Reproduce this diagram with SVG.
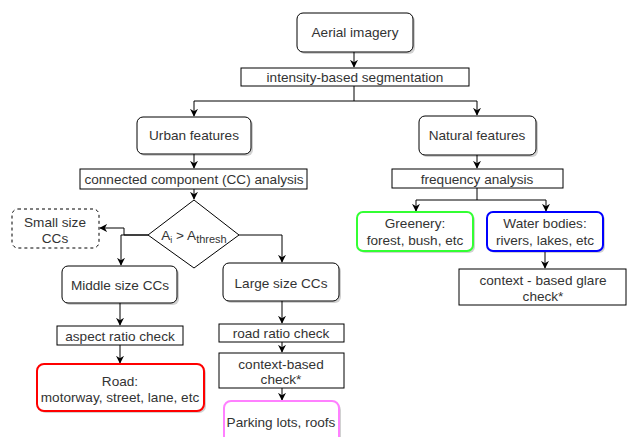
<svg xmlns="http://www.w3.org/2000/svg" width="627" height="437" viewBox="0 0 627 437">
<defs>
<style>
text{font-family:"Liberation Sans",Arial,sans-serif;font-size:13.6px;fill:#333;text-anchor:middle}
.box{fill:#fff;stroke:#000;stroke-width:1}
.rnd{fill:#fff;stroke:#000;stroke-width:1}
.sh{fill:#000;opacity:0.18}
.c{fill:none;stroke:#000;stroke-width:1}
</style>
<marker id="ah" viewBox="0 0 10 10" refX="9" refY="5" markerWidth="8" markerHeight="8" orient="auto" markerUnits="userSpaceOnUse"><path d="M0,0 L10,5 L0,10 L3,5 Z" fill="#000"/></marker>
</defs>
<rect width="627" height="437" fill="#fff"/>
<g id="connectors">
<path class="c" d="M354,52 V67" marker-end="url(#ah)"/>
<path class="c" d="M354,86 V101 H194 V116" marker-end="url(#ah)"/>
<path class="c" d="M354,101 H477 V115" marker-end="url(#ah)"/>
<path class="c" d="M194,154 V168" marker-end="url(#ah)"/>
<path class="c" d="M194,189 V199" marker-end="url(#ah)"/>
<path class="c" d="M148,235 H124 V228 H100" marker-end="url(#ah)"/>
<path class="c" d="M148,235 H121 V265" marker-end="url(#ah)"/>
<path class="c" d="M239,235 H282 V262" marker-end="url(#ah)"/>
<path class="c" d="M120,303 V325" marker-end="url(#ah)"/>
<path class="c" d="M120,345 V363" marker-end="url(#ah)"/>
<path class="c" d="M282,301 V323" marker-end="url(#ah)"/>
<path class="c" d="M282,342 V352" marker-end="url(#ah)"/>
<path class="c" d="M282,388 V400" marker-end="url(#ah)"/>
<path class="c" d="M477,155 V168" marker-end="url(#ah)"/>
<path class="c" d="M477,188 V200 H416 V211" marker-end="url(#ah)"/>
<path class="c" d="M477,200 H546 V211" marker-end="url(#ah)"/>
<path class="c" d="M545,251 V268" marker-end="url(#ah)"/>
</g>
<g id="aerial">
<rect class="sh" x="299" y="15" width="116" height="39" rx="6"/>
<rect class="rnd" x="297" y="13" width="116" height="39" rx="6" stroke-width="2"/>
<text x="355" y="37" font-size="13.2">Aerial imagery</text>
</g>
<g id="segmentation">
<rect class="box" x="241" y="68" width="228" height="18"/>
<text x="355" y="82">intensity-based segmentation</text>
</g>
<g id="urban">
<rect class="sh" x="139" y="119" width="114" height="37" rx="6"/>
<rect class="rnd" x="137" y="117" width="114" height="37" rx="6"/>
<text x="194" y="140">Urban features</text>
</g>
<g id="cc">
<rect class="box" x="80" y="169" width="227" height="20"/>
<text x="194" y="184">connected component (CC) analysis</text>
</g>
<g id="decision">
<path class="box" d="M194,200 L239,235 L194,268 L148,235 Z"/>
<text x="194" y="240">A<tspan font-size="9" dy="3">i</tspan><tspan dy="-3"> &gt; A</tspan><tspan font-size="11" dy="3">thresh</tspan></text>
</g>
<g id="small">
<rect x="12" y="209" width="87" height="39" rx="6" fill="#fff" stroke="#000" stroke-dasharray="3,3"/>
<text x="55" y="227">Small size</text>
<text x="55" y="243">CCs</text>
</g>
<g id="middle">
<rect class="sh" x="64" y="268" width="115" height="37" rx="6"/>
<rect class="rnd" x="62" y="266" width="115" height="37" rx="6"/>
<text x="120" y="290">Middle size CCs</text>
</g>
<g id="large">
<rect class="sh" x="225" y="265" width="116" height="38" rx="6"/>
<rect class="rnd" x="223" y="263" width="116" height="38" rx="6"/>
<text x="281" y="288">Large size CCs</text>
</g>
<g id="aspect">
<rect class="box" x="57" y="326" width="126" height="19"/>
<text x="120" y="341">aspect ratio check</text>
</g>
<g id="road">
<rect class="sh" x="39" y="366" width="167" height="47" rx="7"/>
<rect x="37" y="364" width="167" height="47" rx="7" fill="#fff" stroke="#ff0000" stroke-width="2"/>
<text x="120" y="386">Road:</text>
<text x="120" y="402">motorway, street, lane, etc</text>
</g>
<g id="roadratio">
<rect class="box" x="219" y="324" width="125" height="18"/>
<text x="281" y="338">road ratio check</text>
</g>
<g id="context">
<rect class="box" x="219" y="353" width="125" height="35"/>
<text x="281" y="369">context-based</text>
<text x="281" y="384">check*</text>
</g>
<g id="parking">
<rect class="sh" x="226" y="403" width="115" height="45" rx="7"/>
<rect x="224" y="401" width="115" height="45" rx="7" fill="#fff" stroke="#ff80ff" stroke-width="2"/>
<text x="281" y="427">Parking lots, roofs</text>
</g>
<g id="natural">
<rect class="sh" x="421" y="118" width="117" height="39" rx="6"/>
<rect class="rnd" x="419" y="116" width="117" height="39" rx="6"/>
<text x="477" y="140">Natural features</text>
</g>
<g id="frequency">
<rect class="box" x="392" y="169" width="171" height="19"/>
<text x="477" y="184">frequency analysis</text>
</g>
<g id="greenery">
<rect class="sh" x="359" y="214" width="116" height="39" rx="6"/>
<rect x="357" y="212" width="116" height="39" rx="6" fill="#fff" stroke="#33ff33" stroke-width="2"/>
<text x="415" y="228">Greenery:</text>
<text x="415" y="245">forest, bush, etc</text>
</g>
<g id="water">
<rect class="sh" x="489" y="214" width="116" height="39" rx="6"/>
<rect x="487" y="212" width="116" height="39" rx="6" fill="#fff" stroke="#0000ff" stroke-width="2"/>
<text x="545" y="228">Water bodies:</text>
<text x="545" y="245">rivers, lakes, etc</text>
</g>
<g id="glare">
<rect class="box" x="459" y="269" width="167" height="36"/>
<text x="543" y="285">context - based glare</text>
<text x="543" y="301">check*</text>
</g>
</svg>
